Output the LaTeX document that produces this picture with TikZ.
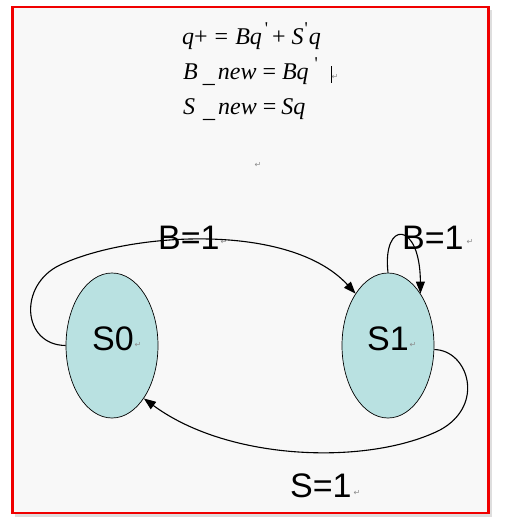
\documentclass[tikz,border=0pt]{standalone}
\usepackage{fontspec}
\setmainfont{Liberation Serif}
\newfontfamily\arialf{Liberation Sans}
\newfontfamily\djv{DejaVu Sans}
\usetikzlibrary{arrows.meta,shapes.geometric}
\definecolor{bgc}{RGB}{248,248,248}
\definecolor{statefill}{RGB}{185,225,225}
\definecolor{framered}{RGB}{240,0,0}
\definecolor{markgray}{RGB}{140,140,140}
\definecolor{shadowgray}{RGB}{200,200,200}
\newcommand{\pr}{\raisebox{10pt}{\fontsize{18}{18}\selectfont\textquotesingle}}
\newcommand{\ul}{\raisebox{-3pt}{\_}}
\tikzset{
 state/.style={ellipse, draw=black, line width=0.7pt, fill=statefill, minimum width=92pt, minimum height=145pt, inner sep=0pt},
 biglabel/.style={font=\arialf\fontsize{34}{34}\selectfont, inner sep=0pt, anchor=base west},
 formula/.style={font=\fontsize{24}{24}\selectfont, inner sep=0pt, anchor=base west},
 pmark/.style={font=\djv\fontsize{8}{8}\selectfont, text=markgray, inner sep=0pt},
 trans/.style={draw=black, line width=1.1pt, -{Triangle[length=12pt,width=9pt]}},
}
\begin{document}
\begin{tikzpicture}[x=1pt,y=-1pt]
\useasboundingbox (0,0) rectangle (504,522);
\fill[white] (0,0) rectangle (504,522);
\fill[shadowgray!60] (15,10) rectangle (492,517);
\fill[bgc] (12.5,7) rectangle (488.5,513);
\draw[framered, line width=2.6pt] (12.5,7) rectangle (488.5,513);

% formulas
\node[formula] (f1) at (182,44) {\textit{q}+\hspace{7pt}=\hspace{7pt}\textit{Bq}\hspace{3pt}\pr\hspace{4pt}+\hspace{6pt}\textit{S}\hspace{1pt}\pr\hspace{1pt}\textit{q}};
\node[formula] (f2) at (183,79) {\textit{B}\hspace{5pt}\ul\hspace{3pt}\textit{new}\hspace{6pt}=\hspace{6pt}\textit{Bq}\hspace{6pt}\pr};
\node[formula] (f3) at (183,114) {\textit{S}\hspace{8pt}\ul\hspace{3pt}\textit{new}\hspace{6pt}=\hspace{5pt}\textit{Sq}};
\fill[black] (330.5,66) rectangle (332,83);
\node[pmark] (m1) at (335,77) {↵};
\node[pmark] (m2) at (258,165) {↵};

% states
\node[state] (s0) at (112,345.5) {};
\node[state] (s1) at (388,345.5) {};
\node[biglabel] (l0) at (92,350) {S0};
\node[biglabel] (l1) at (367,350) {S1};
\node[pmark] (m3) at (138,345) {↵};
\node[pmark] (m4) at (413,345) {↵};

% edge labels
\node[biglabel] (b1) at (158,249) {B=1};
\node[biglabel] (b2) at (402,249) {B=1};
\node[biglabel] (sl) at (290,497) {S=1};
\node[pmark] (m5) at (224,242) {↵};
\node[pmark] (m6) at (470,242) {↵};
\node[pmark] (m7) at (357,493) {↵};

% transitions
\draw[trans] (s0.west) .. controls (22,345) and (18,285) .. (60,265)
  .. controls (130,232) and (290,222) .. (s1.122);
\draw[trans] (s1.north) .. controls (382,220) and (420,220) .. (s1.58);
\draw[trans] (s1.-5) .. controls (468,350) and (486,405) .. (440,430)
  .. controls (370,465) and (230,462) .. (s0.-59);
\end{tikzpicture}
\end{document}
